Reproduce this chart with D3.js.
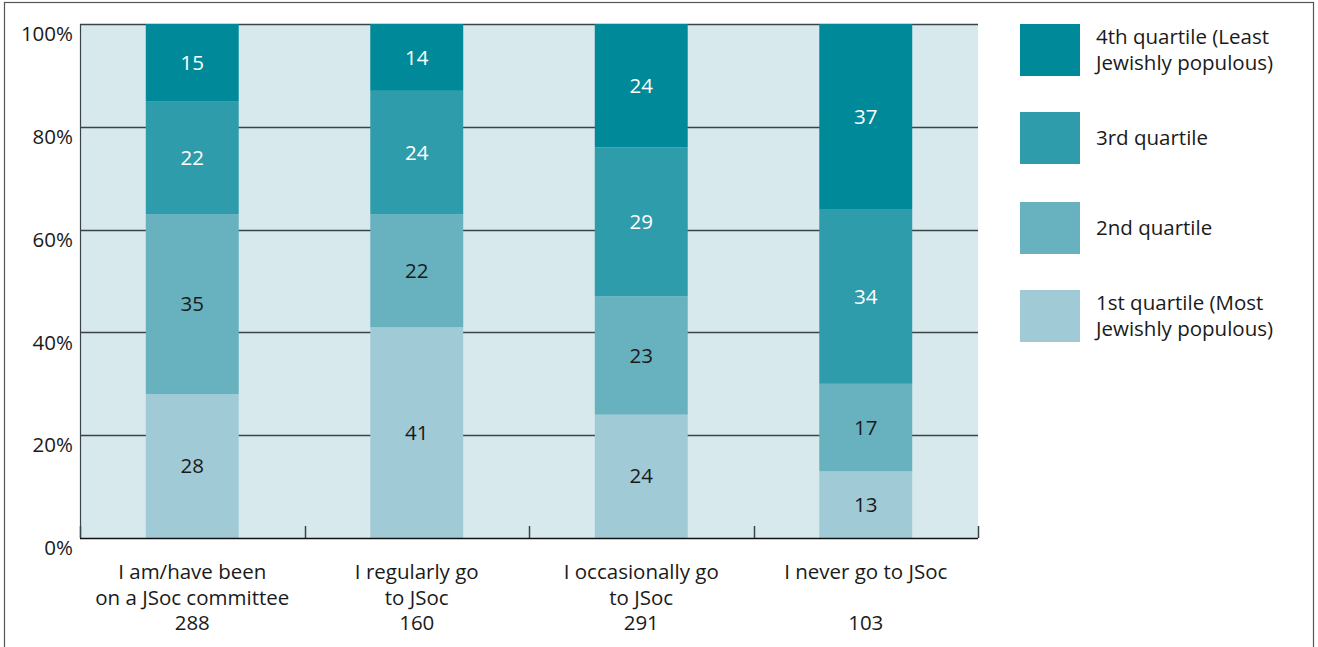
<!DOCTYPE html>
<html>
<head>
<meta charset="utf-8">
<script src="https://cdn.jsdelivr.net/npm/d3@7"></script>
<style>
  html, body { margin: 0; padding: 0; background: #fff; }
  svg { display: block; font-family: "Open Sans", "Liberation Sans", Arial, sans-serif; }
</style>
</head>
<body>
<svg id="chart" width="1318" height="647"></svg>
<script>
const categories = ["committee", "regular", "occasional", "never"];
const categoryLabels = [
  ["I am/have been", "on a JSoc committee", "288"],
  ["I regularly go", "to JSoc", "160"],
  ["I occasionally go", "to JSoc", "291"],
  ["I never go to JSoc", "", "103"]
];
const seriesKeys = ["q1", "q2", "q3", "q4"];
const seriesNames = [
  ["1st quartile (Most", "Jewishly populous)"],
  ["2nd quartile"],
  ["3rd quartile"],
  ["4th quartile (Least", "Jewishly populous)"]
];
const q1 = [28, 41, 24, 13];
const q2 = [35, 22, 23, 17];
const q3 = [22, 24, 29, 34];
const q4 = [15, 14, 24, 37];
const yTicks = [0, 20, 40, 60, 80, 100];
const colors = ["#a0cad6", "#68b1bf", "#2e9cab", "#008a99"];
const textColors = ["#1a1a1a", "#1a1a1a", "#ffffff", "#ffffff"];
const FS = 20.5;

const seriesValues = [q1, q2, q3, q4];
const table = categories.map((c, i) => {
  const row = { cat: c };
  seriesKeys.forEach((k, j) => row[k] = seriesValues[j][i]);
  return row;
});

const svg = d3.select("#chart");
const m = { left: 80, top: 24, right: 978, bottom: 538 };

// outer frame
svg.append("rect")
  .attr("x", 4.5).attr("y", 2.5)
  .attr("width", 1309).attr("height", 700)
  .attr("fill", "none").attr("stroke", "#555").attr("stroke-width", 1.2);

const x = d3.scaleBand().domain(categories).range([m.left, m.right]).paddingInner(0.586).paddingOuter(0.293);
const xOuter = d3.scaleBand().domain(categories).range([m.left, m.right]);
const y = d3.scaleLinear().domain([0, 100]).range([m.bottom, m.top]).clamp(true);

// background
svg.append("rect")
  .attr("x", m.left).attr("y", m.top)
  .attr("width", m.right - m.left).attr("height", m.bottom - m.top)
  .attr("fill", "#d7e9ed");

// gridlines
svg.append("g").selectAll("line").data(yTicks.filter(d => d > 0)).join("line")
  .attr("x1", m.left).attr("x2", m.right)
  .attr("y1", d => Math.round(y(d)) + 0.5).attr("y2", d => Math.round(y(d)) + 0.5)
  .attr("stroke", "#3a4446").attr("stroke-width", 1.3);

// left axis line
svg.append("line")
  .attr("x1", m.left + 0.5).attr("x2", m.left + 0.5)
  .attr("y1", m.top).attr("y2", m.bottom)
  .attr("stroke", "#3a4446").attr("stroke-width", 1.2);

// category separators
const seps = categories.map(c => xOuter(c)).concat([m.right]);
svg.append("g").selectAll("line").data(seps).join("line")
  .attr("x1", d => Math.round(d) + 0.5).attr("x2", d => Math.round(d) + 0.5)
  .attr("y1", m.bottom - 12).attr("y2", m.bottom)
  .attr("stroke", "#3a4446").attr("stroke-width", 1.5);

// stacks
const stack = d3.stack().keys(seriesKeys);
const stacked = stack(table);

const groups = svg.append("g").selectAll("g").data(stacked).join("g")
  .attr("fill", (d, i) => colors[i]);

groups.selectAll("rect").data(d => d).join("rect")
  .attr("x", d => x(d.data.cat))
  .attr("width", x.bandwidth())
  .attr("y", d => y(d[1]))
  .attr("height", d => y(d[0]) - y(d[1]));

// value labels
stacked.forEach((s, i) => {
  svg.append("g").selectAll("text").data(s).join("text")
    .attr("x", d => x(d.data.cat) + x.bandwidth() / 2)
    .attr("y", d => (y(d[0]) + y(d[1])) / 2)
    .attr("dy", "0.35em")
    .attr("text-anchor", "middle")
    .attr("font-size", FS)
    .attr("fill", textColors[i])
    .text(d => d[1] - d[0]);
});

// bottom axis line
svg.append("line")
  .attr("x1", m.left).attr("x2", m.right)
  .attr("y1", m.bottom + 0.5).attr("y2", m.bottom + 0.5)
  .attr("stroke", "#111").attr("stroke-width", 1.5);

// y tick labels
svg.append("g").selectAll("text").data(yTicks).join("text")
  .attr("x", 73)
  .attr("y", d => y(d) + 10)
  .attr("dy", "0.35em")
  .attr("text-anchor", "end")
  .attr("font-size", FS)
  .attr("fill", "#1a1a1a")
  .text(d => d + "%");

// x labels
categories.forEach((c, i) => {
  const t = svg.append("text")
    .attr("text-anchor", "middle")
    .attr("font-size", FS)
    .attr("fill", "#1a1a1a");
  categoryLabels[i].forEach((line, k) => {
    t.append("tspan")
      .attr("x", x(c) + x.bandwidth() / 2)
      .attr("y", 572 + k * 25.5)
      .attr("dy", "0.35em")
      .text(line);
  });
});

// legend
const legendOrder = [3, 2, 1, 0];
const legendY = [24, 112, 202, 290];
legendOrder.forEach((si, k) => {
  const g = svg.append("g");
  g.append("rect")
    .attr("x", 1020).attr("y", legendY[k])
    .attr("width", 60).attr("height", 52)
    .attr("fill", colors[si]);
  const lines = seriesNames[si];
  const cy = legendY[k] + 26;
  const t = g.append("text").attr("font-size", FS).attr("fill", "#1a1a1a");
  lines.forEach((line, j) => {
    t.append("tspan")
      .attr("x", 1096)
      .attr("y", cy + (j - (lines.length - 1) / 2) * 26)
      .attr("dy", "0.35em")
      .text(line);
  });
});
</script>
</body>
</html>
